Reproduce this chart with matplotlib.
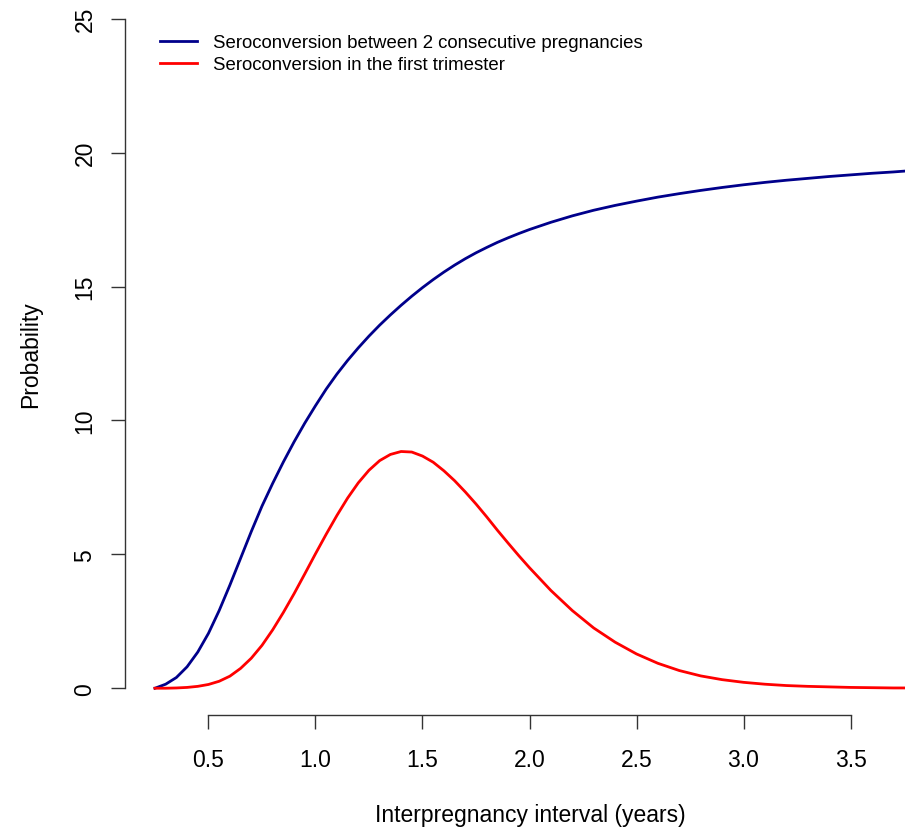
import matplotlib
matplotlib.use("Agg")
import matplotlib.pyplot as plt

plt.rcParams['font.family'] = ['Liberation Sans', 'DejaVu Sans']

# interpregnancy interval (years)
intervalo = [0.25, 0.30, 0.35, 0.40, 0.45, 0.50, 0.55, 0.60, 0.65, 0.70,
             0.75, 0.80, 0.85, 0.90, 0.95, 1.00, 1.05, 1.10, 1.15, 1.20,
             1.25, 1.30, 1.35, 1.40, 1.45, 1.50, 1.55, 1.60, 1.65, 1.70,
             1.75, 1.80, 1.85, 1.90, 1.95, 2.00, 2.10, 2.20, 2.30, 2.40,
             2.50, 2.60, 2.70, 2.80, 2.90, 3.00, 3.10, 3.20, 3.30, 3.40,
             3.50, 3.60, 3.70, 3.75]

# seroconversion between 2 consecutive pregnancies
entre_embarazos = [0.0, 0.15, 0.4, 0.8, 1.35, 2.05, 2.9, 3.85, 4.85, 5.85,
                   6.8, 7.65, 8.45, 9.2, 9.9, 10.55, 11.17, 11.73, 12.24, 12.71,
                   13.15, 13.56, 13.94, 14.3, 14.64, 14.96, 15.26, 15.54, 15.8, 16.04,
                   16.26, 16.46, 16.65, 16.82, 16.98, 17.13, 17.4, 17.64, 17.85, 18.03,
                   18.19, 18.34, 18.47, 18.59, 18.7, 18.8, 18.89, 18.97, 19.04, 19.11,
                   19.17, 19.23, 19.28, 19.31]

# seroconversion in the first trimester
primer_trimestre = [0.0, 0.0, 0.01, 0.03, 0.07, 0.14, 0.26, 0.45, 0.74, 1.12,
                    1.6, 2.18, 2.83, 3.53, 4.27, 5.02, 5.75, 6.45, 7.1, 7.67,
                    8.14, 8.5, 8.73, 8.84, 8.82, 8.67, 8.44, 8.12, 7.75, 7.33,
                    6.88, 6.4, 5.9, 5.42, 4.95, 4.5, 3.65, 2.9, 2.25, 1.72,
                    1.28, 0.93, 0.66, 0.46, 0.32, 0.22, 0.15, 0.1, 0.07, 0.05,
                    0.03, 0.02, 0.01, 0.01]

etiquetas = ["Seroconversion between 2 consecutive pregnancies",
             "Seroconversion in the first trimester"]
xticks = [0.5, 1.0, 1.5, 2.0, 2.5, 3.0, 3.5]
yticks = [0, 5, 10, 15, 20, 25]

W, H = 905, 829
fig = plt.figure(figsize=(W / 100, H / 100), dpi=100)
# plot region (R style, partly outside the image on the right/top)
ax = fig.add_axes([125 / W, (H - 716) / H, (934 - 125) / W, (716 + 7) / H])
ax.set_xlim(0.11, 3.89)
ax.set_ylim(-1, 26)

ax.plot(intervalo, entre_embarazos, color='#00008B', lw=2.0, label=etiquetas[0])
ax.plot(intervalo, primer_trimestre, color='#FF0000', lw=2.0, label=etiquetas[1])

for s in ['top', 'right']:
    ax.spines[s].set_visible(False)
ax.spines['left'].set_bounds(0, 25)
ax.spines['bottom'].set_bounds(0.5, 3.5)
for s in ['left', 'bottom']:
    ax.spines[s].set_linewidth(1.0)
    ax.spines[s].set_color('#333333')

ax.set_xticks(xticks)
ax.set_xticklabels([f"{v:.1f}" for v in xticks])
ax.set_yticks(yticks)
ax.set_yticklabels([str(v) for v in yticks], rotation=90, va='center')
ax.tick_params(axis='both', direction='out', length=10, width=1.0,
               color='#333333', labelsize=16.5)
ax.tick_params(axis='x', pad=13.5)
ax.tick_params(axis='y', pad=10.5)

fig.text(530 / W, 1 - 816 / H, "Interpregnancy interval (years)",
         ha='center', va='center', fontsize=16.5)
fig.text(31 / W, 1 - 355 / H, "Probability", rotation=90,
         ha='center', va='center', fontsize=16.5)

ax.legend(loc='upper left', bbox_to_anchor=(160 / W, 1 - 35 / H),
          bbox_transform=fig.transFigure, frameon=False, fontsize=13.4,
          handlelength=1.99, handletextpad=0.86, labelspacing=0.28,
          borderpad=0, borderaxespad=0)

fig.savefig("out.png", dpi=100)
